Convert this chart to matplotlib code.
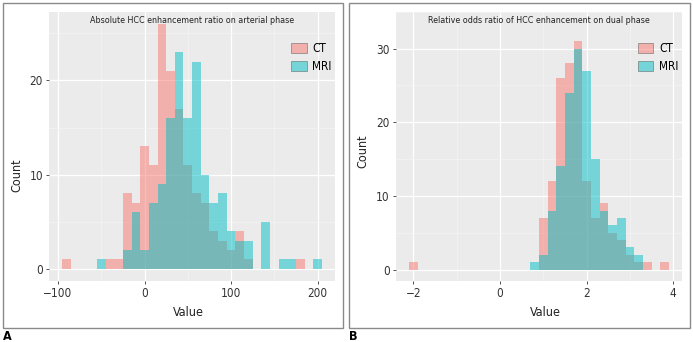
import numpy as np
import matplotlib
matplotlib.use("Agg")
import matplotlib.pyplot as plt
from matplotlib.patches import Patch, Rectangle

plt.rcParams["font.family"] = ["DejaVu Sans"]
plt.rcParams["font.stretch"] = "condensed"

# ── panel A: absolute enhancement ratio, bins of width 10 ──────────
a_centers = [-90, -80, -70, -60, -50, -40, -30, -20, -10, 0, 10, 20, 30, 40, 50,
             60, 70, 80, 90, 100, 110, 120, 130, 140, 150, 160, 170, 180, 190, 200]
a_ct = [1, 0, 0, 0, 0, 1, 1, 8, 7, 13, 11, 26, 21, 17, 11,
        8, 7, 4, 3, 2, 4, 1, 0, 0, 0, 0, 0, 1, 0, 0]
a_mri = [0, 0, 0, 0, 1, 0, 0, 2, 6, 2, 7, 9, 16, 23, 16,
         22, 10, 7, 8, 4, 3, 3, 0, 5, 0, 1, 1, 0, 0, 1]
a_xticks = [-100, 0, 100, 200]
a_yticks = [0, 10, 20]

# ── panel B: relative odds ratio, bins of width 0.2 ─────────────────
b_centers = [-2.0, -1.8, -1.6, -1.4, -1.2, -1.0, -0.8, -0.6, -0.4, -0.2, 0.0,
             0.2, 0.4, 0.6, 0.8, 1.0, 1.2, 1.4, 1.6, 1.8, 2.0, 2.2, 2.4, 2.6,
             2.8, 3.0, 3.2, 3.4, 3.6, 3.8]
b_ct = [1, 0, 0, 0, 0, 0, 0, 0, 0, 0, 0,
        0, 0, 0, 0, 7, 12, 26, 28, 31, 12, 7, 9, 5,
        4, 2, 1, 1, 0, 1]
b_mri = [0, 0, 0, 0, 0, 0, 0, 0, 0, 0, 0,
         0, 0, 0, 1, 2, 8, 14, 24, 30, 27, 15, 8, 6,
         7, 3, 2, 0, 0, 0]
b_xticks = [-2, 0, 2, 4]
b_yticks = [0, 10, 20, 30]

CT_COL = "#F8766D"
MRI_COL = "#00BFC4"
W, H = 693, 342


def px_rect(x0, y0, x1, y1):
    """pixel box (top-left origin) -> figure fraction [l, b, w, h]"""
    return [x0 / W, 1 - y1 / H, (x1 - x0) / W, (y1 - y0) / H]


def draw_panel(ax, centers, ct, mri, width, xticks, yticks, title):
    ax.set_facecolor("#EBEBEB")
    ax.bar(centers, ct, width=width, color=CT_COL, alpha=0.5, linewidth=0, zorder=3)
    ax.bar(centers, mri, width=width, color=MRI_COL, alpha=0.5, linewidth=0, zorder=4)

    lo = centers[0] - width / 2
    hi = centers[-1] + width / 2
    pad = (hi - lo) * 0.05
    ax.set_xlim(lo - pad, hi + pad)
    top = max(max(ct), max(mri))
    ax.set_ylim(-top * 0.05, top * 1.05)

    ax.set_xticks(xticks)
    ax.set_yticks(yticks)
    step_x = xticks[1] - xticks[0]
    step_y = yticks[1] - yticks[0]
    ax.set_xticks([t + step_x / 2 for t in xticks[:-1]], minor=True)
    ax.set_yticks([t + step_y / 2 for t in yticks], minor=True)
    ax.grid(which="major", color="white", linewidth=0.9, zorder=0)
    ax.grid(which="minor", color="#F5F5F5", linewidth=0.5, zorder=0)
    ax.set_axisbelow(True)
    for s in ax.spines.values():
        s.set_visible(False)
    ax.tick_params(which="major", length=2.5, width=0.6, color="#333333",
                   labelsize=8.5, labelcolor="#333333", pad=2)
    ax.tick_params(which="minor", length=0)

    ax.text(0.5, 0.985, title, transform=ax.transAxes, ha="center", va="top",
            fontsize=6.4, color="#222222", zorder=6)

    handles = [Patch(facecolor=CT_COL, alpha=0.5, edgecolor="#444444", linewidth=0.6, label="CT"),
               Patch(facecolor=MRI_COL, alpha=0.5, edgecolor="#444444", linewidth=0.6, label="MRI")]
    leg = ax.legend(handles=handles, loc="upper left", bbox_to_anchor=(0.83, 0.905),
                    frameon=False, fontsize=8.5, handlelength=1.3, handleheight=0.9,
                    handletextpad=0.5, labelspacing=0.45, borderaxespad=0)
    for h in leg.legend_handles:
        h.set_edgecolor("#444444")


fig = plt.figure(figsize=(W / 100, H / 100), dpi=100)

axA = fig.add_axes(px_rect(49.3, 11.7, 335, 281))
draw_panel(axA, a_centers, a_ct, a_mri, 10, a_xticks, a_yticks,
           "Absolute HCC enhancement ratio on arterial phase")
axB = fig.add_axes(px_rect(396, 11.7, 682, 281))
draw_panel(axB, b_centers, b_ct, b_mri, 0.2, b_xticks, b_yticks,
           "Relative odds ratio of HCC enhancement on dual phase")

# axis titles placed like the original
for xc, yc in [(16.5, 175), (362.5, 151)]:
    fig.text(xc / W, 1 - yc / H, "Count", rotation=90, ha="center", va="center",
             fontsize=9, color="#222222")
for xc in (188, 545):
    fig.text(xc / W, 1 - 313 / H, "Value", ha="center", va="center",
             fontsize=9, color="#222222")

# panel frames and letters
for x0, x1 in [(2.7, 343), (348.7, 689.5)]:
    l, b, w, h = px_rect(x0, 2.7, x1, 328)
    fig.add_artist(Rectangle((l, b), w, h, transform=fig.transFigure,
                             fill=False, edgecolor="#8a8a8a", linewidth=1.0))
fig.text(3 / W, 1 - 337 / H, "A", fontsize=9, fontweight="bold", va="center", ha="left")
fig.text(349 / W, 1 - 337 / H, "B", fontsize=9, fontweight="bold", va="center", ha="left")

fig.savefig("out.png", dpi=100)
